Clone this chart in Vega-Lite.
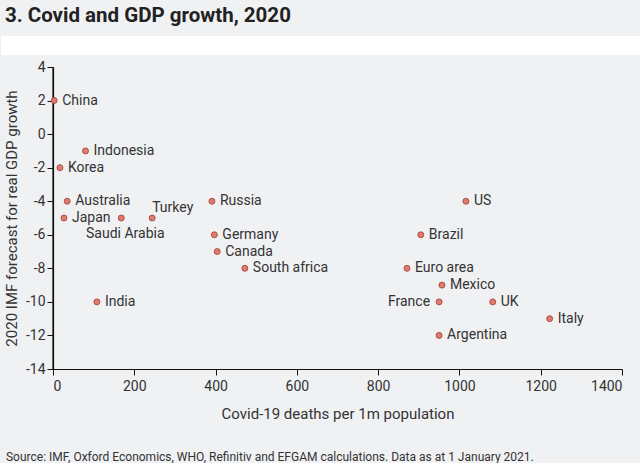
{
  "$schema": "https://vega.github.io/schema/vega-lite/v6.json",
  "background": "#f0f1f3",
  "padding": {"left": 0, "top": 6, "right": 0, "bottom": 0},
  "title": {
    "text": "3. Covid and GDP growth, 2020",
    "anchor": "start",
    "frame": "bounds",
    "fontSize": 20.5,
    "fontWeight": "bold",
    "color": "#222222",
    "offset": 9,
    "dx": 4
  },
  "datasets": {
    "gdp": [
      {"country": "China", "deaths": 3, "growth": 2},
      {"country": "Indonesia", "deaths": 80, "growth": -1},
      {"country": "Korea", "deaths": 17, "growth": -2},
      {"country": "Australia", "deaths": 35, "growth": -4},
      {"country": "Japan", "deaths": 27, "growth": -5},
      {"country": "Saudi Arabia", "deaths": 168, "growth": -5},
      {"country": "Turkey", "deaths": 244, "growth": -5},
      {"country": "Russia", "deaths": 391, "growth": -4},
      {"country": "Germany", "deaths": 397, "growth": -6},
      {"country": "Canada", "deaths": 404, "growth": -7},
      {"country": "South africa", "deaths": 472, "growth": -8},
      {"country": "India", "deaths": 108, "growth": -10},
      {"country": "US", "deaths": 1016, "growth": -4},
      {"country": "Brazil", "deaths": 905, "growth": -6},
      {"country": "Euro area", "deaths": 871, "growth": -8},
      {"country": "Mexico", "deaths": 957, "growth": -9},
      {"country": "France", "deaths": 950, "growth": -10},
      {"country": "UK", "deaths": 1082, "growth": -10},
      {"country": "Italy", "deaths": 1222, "growth": -11},
      {"country": "Argentina", "deaths": 950, "growth": -12}
    ]
  },
  "vconcat": [
    {
      "width": 569,
      "height": 302,
      "title": {
        "text": "Source: IMF, Oxford Economics, WHO, Refinitiv and EFGAM calculations. Data as at 1 January 2021.",
        "orient": "bottom",
        "anchor": "start",
        "frame": "bounds",
        "fontSize": 12,
        "fontWeight": "normal",
        "color": "#333333",
        "offset": 31,
        "dx": 5
      },
      "data": {"name": "gdp"},
      "layer": [
        {
          "data": {"values": [{"band": "header"}]},
          "mark": {"type": "rect", "fill": "#ffffff", "opacity": 1, "clip": false},
          "encoding": {
            "x": {
              "datum": -128,
              "type": "quantitative",
              "title": "Covid-19 deaths per 1m population",
              "scale": {"domain": [0, 1400], "nice": false},
              "axis": {"values": [0, 200, 400, 600, 800, 1000, 1200, 1400], "format": "d", "domain": true, "labelPadding": 4, "titlePadding": 13}
            },
            "x2": {"datum": 1447},
            "y": {
              "datum": 4.715,
              "type": "quantitative",
              "title": "2020 IMF forecast for real GDP growth",
              "scale": {"domain": [-14, 4], "nice": false},
              "axis": {"values": [-14, -12, -10, -8, -6, -4, -2, 0, 2, 4], "labelExpr": "'' + datum.value", "domain": true, "titlePadding": 6}
            },
            "y2": {"datum": 5.85}
          }
        },
        {
          "data": {"values": [{"line": "y axis"}]},
          "mark": {"type": "rule", "color": "#111111", "strokeWidth": 1.2},
          "encoding": {
            "x": {
              "datum": 0,
              "type": "quantitative",
              "title": "Covid-19 deaths per 1m population",
              "scale": {"domain": [0, 1400], "nice": false},
              "axis": {"values": [0, 200, 400, 600, 800, 1000, 1200, 1400], "format": "d", "domain": true, "labelPadding": 4, "titlePadding": 13}
            },
            "y": {
              "datum": -14,
              "type": "quantitative",
              "title": "2020 IMF forecast for real GDP growth",
              "scale": {"domain": [-14, 4], "nice": false},
              "axis": {"values": [-14, -12, -10, -8, -6, -4, -2, 0, 2, 4], "labelExpr": "'' + datum.value", "domain": true, "titlePadding": 6}
            },
            "y2": {"datum": 4}
          }
        },
        {
          "encoding": {
            "x": {
              "field": "deaths",
              "type": "quantitative",
              "title": "Covid-19 deaths per 1m population",
              "scale": {"domain": [0, 1400], "nice": false},
              "axis": {"values": [0, 200, 400, 600, 800, 1000, 1200, 1400], "format": "d", "domain": true, "labelPadding": 4, "titlePadding": 13}
            },
            "y": {
              "field": "growth",
              "type": "quantitative",
              "title": "2020 IMF forecast for real GDP growth",
              "scale": {"domain": [-14, 4], "nice": false},
              "axis": {"values": [-14, -12, -10, -8, -6, -4, -2, 0, 2, 4], "labelExpr": "'' + datum.value", "domain": true, "titlePadding": 6}
            }
          },
          "layer": [
            {
              "mark": {"type": "point", "filled": true, "size": 36, "color": "#e07a6c", "stroke": "#9a3f33", "strokeWidth": 0.8, "opacity": 1}
            },
            {
              "transform": [{"filter": {"not": {"field": "country", "oneOf": ["France", "Saudi Arabia", "Turkey"]}}}],
              "mark": {"type": "text", "align": "left", "baseline": "middle", "dx": 8, "fontSize": 14, "color": "#333333"},
              "encoding": {"text": {"field": "country"}}
            },
            {
              "transform": [{"filter": {"field": "country", "equal": "France"}}],
              "mark": {"type": "text", "align": "right", "baseline": "middle", "dx": -9, "fontSize": 14, "color": "#333333"},
              "encoding": {"text": {"field": "country"}}
            },
            {
              "transform": [{"filter": {"field": "country", "equal": "Saudi Arabia"}}],
              "mark": {"type": "text", "align": "center", "baseline": "middle", "dx": 4, "dy": 16, "fontSize": 14, "color": "#333333"},
              "encoding": {"text": {"field": "country"}}
            },
            {
              "transform": [{"filter": {"field": "country", "equal": "Turkey"}}],
              "mark": {"type": "text", "align": "left", "baseline": "middle", "dx": 0, "dy": -10, "fontSize": 14, "color": "#333333"},
              "encoding": {"text": {"field": "country"}}
            }
          ]
        }
      ]
    }
  ],
  "config": {
    "font": "Roboto",
    "view": {"stroke": null},
    "axis": {
      "grid": false,
      "domainColor": "#111111",
      "domainWidth": 1.2,
      "tickColor": "#111111",
      "tickSize": 6,
      "labelPadding": 2,
      "labelFontSize": 14,
      "labelColor": "#333333",
      "titleFontSize": 15,
      "titleFontWeight": "normal",
      "titleColor": "#333333"
    }
  }
}
